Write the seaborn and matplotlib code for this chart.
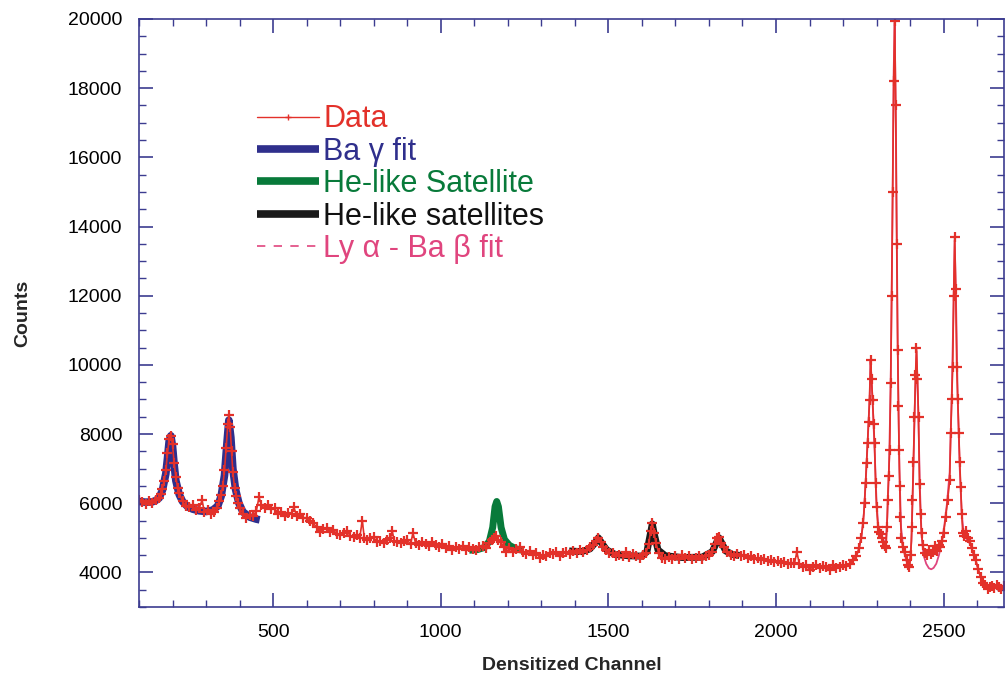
import numpy as np
import pandas as pd
import matplotlib
matplotlib.use("Agg")
import matplotlib.pyplot as plt
from matplotlib.lines import Line2D
import seaborn as sns

channel = [100, 110, 120, 130, 140, 150, 160, 165, 170, 175, 180, 185, 190, 195, 200, 205, 210, 215, 220, 230,
           240, 250, 260, 270, 280, 288, 295, 305, 315, 325, 333, 340, 345, 350, 355, 360, 365, 368, 372, 376,
           380, 385, 390, 395, 400, 410, 420, 430, 440, 450, 458, 465, 475, 485, 495, 505, 515, 525, 535, 545,
           555, 562, 570, 580, 590, 600, 610, 620, 630, 640, 650, 660, 670, 680, 690, 700, 710, 720, 730, 740,
           750, 758, 766, 772, 780, 790, 800, 810, 820, 830, 840, 850, 855, 862, 870, 880, 890, 900, 910, 917,
           925, 935, 945, 955, 965, 975, 985, 995, 1005, 1015, 1025, 1035, 1045, 1055, 1065, 1075, 1085, 1095,
           1105, 1115, 1125, 1135, 1145, 1152, 1158, 1165, 1172, 1180, 1188, 1196, 1205, 1215, 1225, 1235, 1245,
           1255, 1265, 1275, 1285, 1295, 1305, 1315, 1325, 1335, 1345, 1355, 1365, 1375, 1385, 1395, 1405, 1415,
           1425, 1435, 1445, 1455, 1463, 1470, 1477, 1485, 1493, 1503, 1513, 1523, 1533, 1543, 1553, 1563, 1573,
           1583, 1593, 1603, 1612, 1620, 1626, 1631, 1636, 1642, 1650, 1660, 1670, 1680, 1690, 1700, 1710, 1720,
           1730, 1740, 1750, 1760, 1770, 1780, 1790, 1800, 1810, 1818, 1825, 1831, 1837, 1845, 1855, 1865, 1875,
           1885, 1895, 1905, 1915, 1925, 1935, 1945, 1955, 1965, 1975, 1985, 1995, 2005, 2015, 2025, 2035, 2045,
           2055, 2062, 2070, 2080, 2090, 2100, 2110, 2120, 2130, 2140, 2150, 2160, 2170, 2180, 2190, 2200, 2210,
           2220, 2230, 2240, 2248, 2254, 2260, 2264, 2267, 2270, 2273, 2276, 2279, 2282, 2285, 2288, 2291, 2294,
           2297, 2300, 2304, 2308, 2312, 2316, 2320, 2324, 2328, 2331, 2333, 2336, 2339, 2342, 2345, 2348, 2351,
           2354, 2357, 2360, 2363, 2365, 2367, 2369, 2371, 2374, 2378, 2384, 2390, 2394, 2398, 2402, 2405, 2407,
           2410, 2413, 2416, 2419, 2422, 2425, 2428, 2431, 2434, 2438, 2443, 2449, 2455, 2461, 2467, 2473, 2479,
           2485, 2490, 2495, 2500, 2506, 2512, 2518, 2521, 2524, 2527, 2530, 2533, 2536, 2539, 2542, 2545, 2548,
           2551, 2554, 2557, 2562, 2567, 2572, 2578, 2584, 2590, 2596, 2603, 2610, 2617, 2624, 2631, 2637, 2644,
           2651, 2658, 2665, 2672, 2679, 2686, 2693, 2700]
counts = [6100, 6040, 5980, 6060, 6000, 6090, 6150, 6260, 6420, 6650, 6950, 7450, 7850, 7950, 7700, 7150, 6750, 6450, 6300, 6050,
          5920, 5880, 5950, 5800, 5870, 6080, 5760, 5800, 5700, 5760, 5850, 6050, 6250, 6500, 6950, 7600, 8300, 8550, 8200, 7500,
          6900, 6450, 6200, 6000, 5850, 5700, 5580, 5650, 5620, 5780, 6170, 5950, 5850, 5960, 5820, 5850, 5700, 5750, 5620, 5720,
          5680, 5880, 5640, 5700, 5580, 5560, 5480, 5420, 5300, 5160, 5250, 5270, 5180, 5220, 5120, 5070, 5150, 5210, 5050, 5010,
          5080, 4980, 5500, 5000, 4930, 4990, 5010, 4880, 4920, 4860, 4950, 4980, 5200, 4900, 4880, 4840, 4900, 4930, 4820, 5130,
          4850, 4790, 4880, 4820, 4760, 4870, 4800, 4740, 4820, 4700, 4760, 4660, 4740, 4690, 4760, 4650, 4720, 4680,
          4640, 4720, 4760, 4700, 4850, 4930, 5000, 5060, 4940, 4870, 4720, 4600, 4700, 4580, 4680, 4720, 4600,
          4540, 4620, 4510, 4560, 4430, 4500, 4470, 4560, 4520, 4580, 4480, 4560, 4600, 4520, 4620, 4560, 4640,
          4580, 4660, 4720, 4800, 4900, 4990, 4880, 4740, 4660, 4560, 4550, 4480, 4500, 4460, 4580, 4450, 4520,
          4470, 4430, 4500, 4560, 4820, 5200, 5420, 5150, 4850, 4560, 4430, 4380, 4450, 4400, 4460, 4380, 4490,
          4420, 4460, 4390, 4430, 4470, 4400, 4480, 4490, 4600, 4820, 4980, 5010, 4850, 4720, 4580, 4500, 4480,
          4540, 4470, 4500, 4420, 4460, 4380, 4420, 4350, 4400, 4320, 4360, 4300, 4340, 4260, 4300, 4240, 4280,
          4260, 4580, 4250, 4150, 4200, 4080, 4170, 4200, 4120, 4180, 4150, 4080, 4200, 4130, 4170, 4200, 4190,
          4250, 4350, 4480, 4700, 5000, 5420, 6000, 6580, 7150, 7730, 8350, 8980, 10130, 9600, 8980, 8300, 7730,
          6580, 5900, 5300, 5180, 5100, 5000, 4880, 4750, 4700, 5300, 6080, 6800, 7530, 9470, 12000, 15000, 18200,
          19950, 17500, 13500, 10420, 8800, 7530, 6500, 5590, 5000, 4720, 4600, 4350, 4200, 4150, 4500, 5300, 6080,
          7200, 8490, 9700, 10480, 9600, 8490, 6570, 5700, 5130, 4800, 4550, 4500, 4650, 4520, 4600, 4750, 4620,
          4800, 4720, 4900, 5150, 5590, 6100, 6660, 8020, 9000, 9930, 12000, 13700, 12200, 9930, 9000, 8020, 7200,
          6460, 5700, 5130, 5050, 5200, 5000, 4920, 4700, 4500, 4350, 4100, 3860, 3700, 3640, 3520, 3570, 3620,
          3560, 3640, 3580, 3520, 3600, 3570, 3540, 3560]

# Ba gamma fit
ba_ch = [100, 120, 140, 150, 160, 170, 180, 185, 190, 195, 200, 205, 210, 220, 230, 245, 260, 280, 300, 320,
         335, 345, 355, 362, 368, 374, 380, 388, 398, 410, 430, 450, 460]
ba_fit = [6050, 6030, 6040, 6080, 6150, 6380, 6850, 7300, 7800, 7950, 7650, 7100, 6650, 6250, 6050, 5900, 5830, 5780, 5760, 5800,
          5920, 6200, 6800, 7700, 8400, 7900, 7000, 6400, 6000, 5750, 5600, 5540, 5520]

# He-like satellite (single)
he1_ch = [1085, 1110, 1130, 1145, 1155, 1162, 1167, 1172, 1180, 1190, 1205, 1225, 1243]
he1_fit = [4640, 4660, 4720, 4900, 5300, 5900, 6050, 5900, 5300, 4950, 4780, 4680, 4640]

# He-like satellites (three peaks)
he3_ch = [1383, 1420, 1445, 1460, 1470, 1480, 1495, 1520, 1560, 1600, 1615, 1625, 1631, 1637, 1648, 1670, 1720,
          1780, 1810, 1822, 1830, 1838, 1850, 1870, 1891]
he3_fit = [4620, 4600, 4680, 4850, 5000, 4850, 4650, 4520, 4480, 4470, 4600, 5100, 5400, 5100, 4650, 4480, 4430,
           4440, 4600, 4850, 5000, 4850, 4620, 4520, 4490]

# Ly alpha - Ba beta fit
ly_ch = [2180, 2200, 2220, 2235, 2245, 2255, 2262, 2268, 2274, 2279, 2282, 2285, 2290, 2295, 2300, 2305, 2312, 2320,
         2327, 2332, 2337, 2342, 2347, 2351, 2354, 2358, 2363, 2368, 2373, 2380, 2390, 2398, 2404, 2409, 2414, 2419,
         2424, 2429, 2434, 2440, 2448, 2456, 2463, 2470, 2478, 2486, 2494, 2502, 2510, 2518, 2524, 2529, 2533, 2537,
         2542, 2548, 2554, 2560, 2570, 2580, 2592, 2604, 2615, 2630, 2650, 2670, 2700]
ly_fit = [4150, 4180, 4250, 4400, 4600, 5050, 5700, 6700, 7900, 9000, 10100, 9600, 8500, 7300, 6000, 5350, 5150, 4950,
          4800, 5600, 7000, 9400, 14000, 18500, 19900, 16500, 10500, 7000, 5300, 4650, 4300, 4200, 4900, 6700, 8800, 10400,
          8800, 6500, 5100, 4500, 4250, 4120, 4090, 4130, 4250, 4500, 4850, 5350, 6000, 6900, 9000, 11500, 13600, 11800,
          9000, 7000, 5700, 5100, 4950, 4800, 4450, 4050, 3750, 3600, 3580, 3560, 3550]

red = "#e3312a"
navy = "#2f2f8c"
green = "#087a3a"
pink = "#e0457e"
axcol = "#3c3c90"

sns.set_style("ticks")
plt.rcParams["font.family"] = ["Liberation Sans", "DejaVu Sans"]

fig = plt.figure(figsize=(10.05, 6.76), dpi=100)
ax = fig.add_axes([0.1383, 0.1021, 0.8607, 0.8698])

fit_kw = dict(estimator=None, sort=False, ax=ax, solid_capstyle="butt")
sns.lineplot(x=ba_ch, y=ba_fit, color=navy, linewidth=5.5, **fit_kw)
sns.lineplot(x=he1_ch, y=he1_fit, color=green, linewidth=5, **fit_kw)
sns.lineplot(x=he3_ch, y=he3_fit, color="#1a1a1a", linewidth=5, **fit_kw)
sns.lineplot(x=ly_ch, y=ly_fit, color=pink, linewidth=1.3, **fit_kw)
sns.lineplot(x=channel, y=counts, color=red, linewidth=1.2, marker="+", markersize=7,
             markeredgewidth=1.6, markeredgecolor=red, estimator=None, sort=False, ax=ax)

ax.set_xlim(100, 2680)
ax.set_ylim(3000, 20000)
ax.set_xticks([500, 1000, 1500, 2000, 2500])
ax.set_xticks(np.arange(100, 2681, 100), minor=True)
ax.set_yticks(np.arange(4000, 20001, 2000))
ax.set_yticks(np.arange(3000, 20001, 500), minor=True)

for s in ax.spines.values():
    s.set_color(axcol)
    s.set_linewidth(1.2)
ax.tick_params(which="both", direction="in", top=True, right=True, colors=axcol,
               labelcolor="black", labelsize=14)
ax.tick_params(which="major", length=10, width=1.2)
ax.tick_params(which="minor", length=5, width=1.0)
ax.tick_params(axis="y", pad=12)
ax.tick_params(axis="x", pad=12)

ax.set_xlabel("Densitized Channel", fontsize=14, fontweight="bold", labelpad=12)
ax.set_ylabel("Counts", fontsize=14, fontweight="bold", labelpad=26)

handles = [
    Line2D([], [], color=red, linewidth=1.0, marker="+", markersize=5, markevery=[1]),
    Line2D([], [], color=navy, linewidth=5.5, solid_capstyle="butt"),
    Line2D([], [], color=green, linewidth=5.5, solid_capstyle="butt"),
    Line2D([], [], color="#1a1a1a", linewidth=5.5, solid_capstyle="butt"),
    Line2D([], [], color=pink, linewidth=1.2, linestyle=(0, (5, 5))),
]
labels = ["Data", "Ba \u03b3 fit", "He-like Satellite", "He-like satellites", "Ly \u03b1 - Ba \u03b2 fit"]
leg = ax.legend(handles, labels, loc="upper left", bbox_to_anchor=(0.137, 0.855), frameon=False,
                fontsize=22, handlelength=2.0, handletextpad=0.15, labelspacing=0.08, borderpad=0,
                borderaxespad=0)
for t, c in zip(leg.get_texts(), [red, navy, green, "#111111", pink]):
    t.set_color(c)

fig.savefig("out.png", dpi=100)
